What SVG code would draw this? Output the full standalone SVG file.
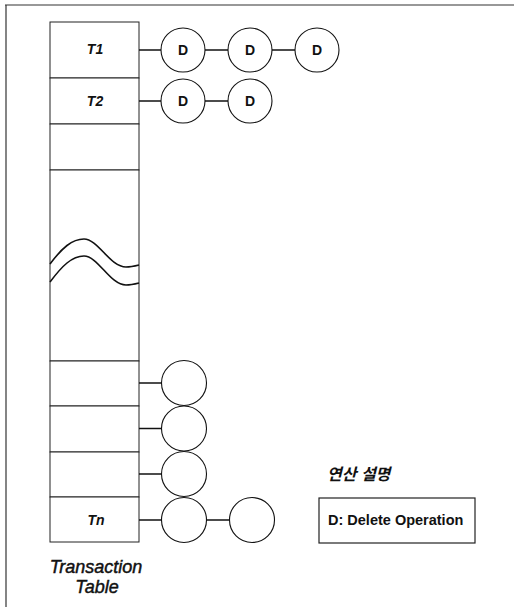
<svg xmlns="http://www.w3.org/2000/svg" width="514" height="607" viewBox="0 0 514 607">
<style>
.frame{stroke:#333;stroke-width:1.2;fill:none}
.cell{fill:#fff;stroke:#222;stroke-width:1}
.node{fill:#fff;stroke:#111;stroke-width:1.1}
.conn{stroke:#111;stroke-width:1.5;fill:none}
.wave{stroke:#111;stroke-width:1.6;fill:none}
.lbl{font-family:"Liberation Sans",Arial,sans-serif;font-weight:bold;font-style:italic;font-size:14px;fill:#111}
.d{font-family:"Liberation Sans",Arial,sans-serif;font-weight:bold;font-size:14px;fill:#111}
.cap{font-family:"Liberation Sans",Arial,sans-serif;font-style:italic;font-size:18px;fill:#111;stroke:#111;stroke-width:0.45}
.ko{font-family:"Liberation Sans","Noto Sans CJK KR",sans-serif;font-weight:bold;font-style:italic;font-size:16px;fill:#111}
</style>
<rect width="514" height="607" fill="#fff"/>
<g id="frame">
<line class="frame" x1="5" y1="5" x2="514" y2="5"/>
<line class="frame" x1="6" y1="5" x2="6" y2="607"/>
</g>
<g id="table">
<rect class="cell" x="50" y="22" width="89" height="56"/>
<rect class="cell" x="50" y="78" width="89" height="46"/>
<rect class="cell" x="50" y="124" width="89" height="46"/>
<rect class="cell" x="50" y="170" width="89" height="191"/>
<rect class="cell" x="50" y="361" width="89" height="45"/>
<rect class="cell" x="50" y="406" width="89" height="46"/>
<rect class="cell" x="50" y="452" width="89" height="45"/>
<rect class="cell" x="50" y="497" width="89" height="45"/>
<path class="wave" d="M50,264 C62,248 72,239 84,239 C98,239 110,267 126,267 C131,267 135,266 139,265"/>
<path class="wave" d="M50,282 C62,266 72,256 84,256 C98,256 110,285 126,285 C131,285 135,284 139,283"/>
<text class="lbl" x="95" y="54" text-anchor="middle">T1</text>
<text class="lbl" x="95" y="106" text-anchor="middle">T2</text>
<text class="lbl" x="96" y="525" text-anchor="middle">Tn</text>
<text class="cap" x="96" y="573" text-anchor="middle">Transaction</text>
<text class="cap" x="97" y="593" text-anchor="middle">Table</text>
</g>
<g id="connectors">
<line class="conn" x1="139" y1="50" x2="161" y2="50"/>
<line class="conn" x1="205" y1="50" x2="228" y2="50"/>
<line class="conn" x1="272" y1="50" x2="295" y2="50"/>
<line class="conn" x1="139" y1="101" x2="161" y2="101"/>
<line class="conn" x1="205" y1="101" x2="228" y2="101"/>
<line class="conn" x1="139" y1="383" x2="161.5" y2="383"/>
<line class="conn" x1="139" y1="428.5" x2="161.5" y2="428.5"/>
<line class="conn" x1="139" y1="474" x2="161.5" y2="474"/>
<line class="conn" x1="139" y1="520" x2="161.5" y2="520"/>
<line class="conn" x1="206.5" y1="520" x2="229.5" y2="520"/>
</g>
<g id="t1-d1"><circle class="node" cx="183" cy="50" r="22"/><text class="d" x="183" y="55" text-anchor="middle">D</text></g>
<g id="t1-d2"><circle class="node" cx="250" cy="50" r="22"/><text class="d" x="250" y="55" text-anchor="middle">D</text></g>
<g id="t1-d3"><circle class="node" cx="317" cy="50" r="22"/><text class="d" x="317" y="55" text-anchor="middle">D</text></g>
<g id="t2-d1"><circle class="node" cx="183" cy="101" r="22"/><text class="d" x="183" y="106" text-anchor="middle">D</text></g>
<g id="t2-d2"><circle class="node" cx="250" cy="101" r="22"/><text class="d" x="250" y="106" text-anchor="middle">D</text></g>
<g id="r1-c1"><circle class="node" cx="184" cy="383" r="22.5"/></g>
<g id="r2-c1"><circle class="node" cx="184" cy="428.5" r="22.5"/></g>
<g id="r3-c1"><circle class="node" cx="184" cy="474" r="22.5"/></g>
<g id="tn-c1"><circle class="node" cx="184" cy="520" r="22.5"/></g>
<g id="tn-c2"><circle class="node" cx="252" cy="520" r="22.5"/></g>
<g id="legend">
<text class="ko" x="327" y="480">연산 설명</text>
<rect x="319" y="498" width="156" height="45" fill="#fff" stroke="#222" stroke-width="1.2"/>
<text class="d" x="328" y="525" style="font-size:14.5px">D: Delete Operation</text>
</g>
</svg>
